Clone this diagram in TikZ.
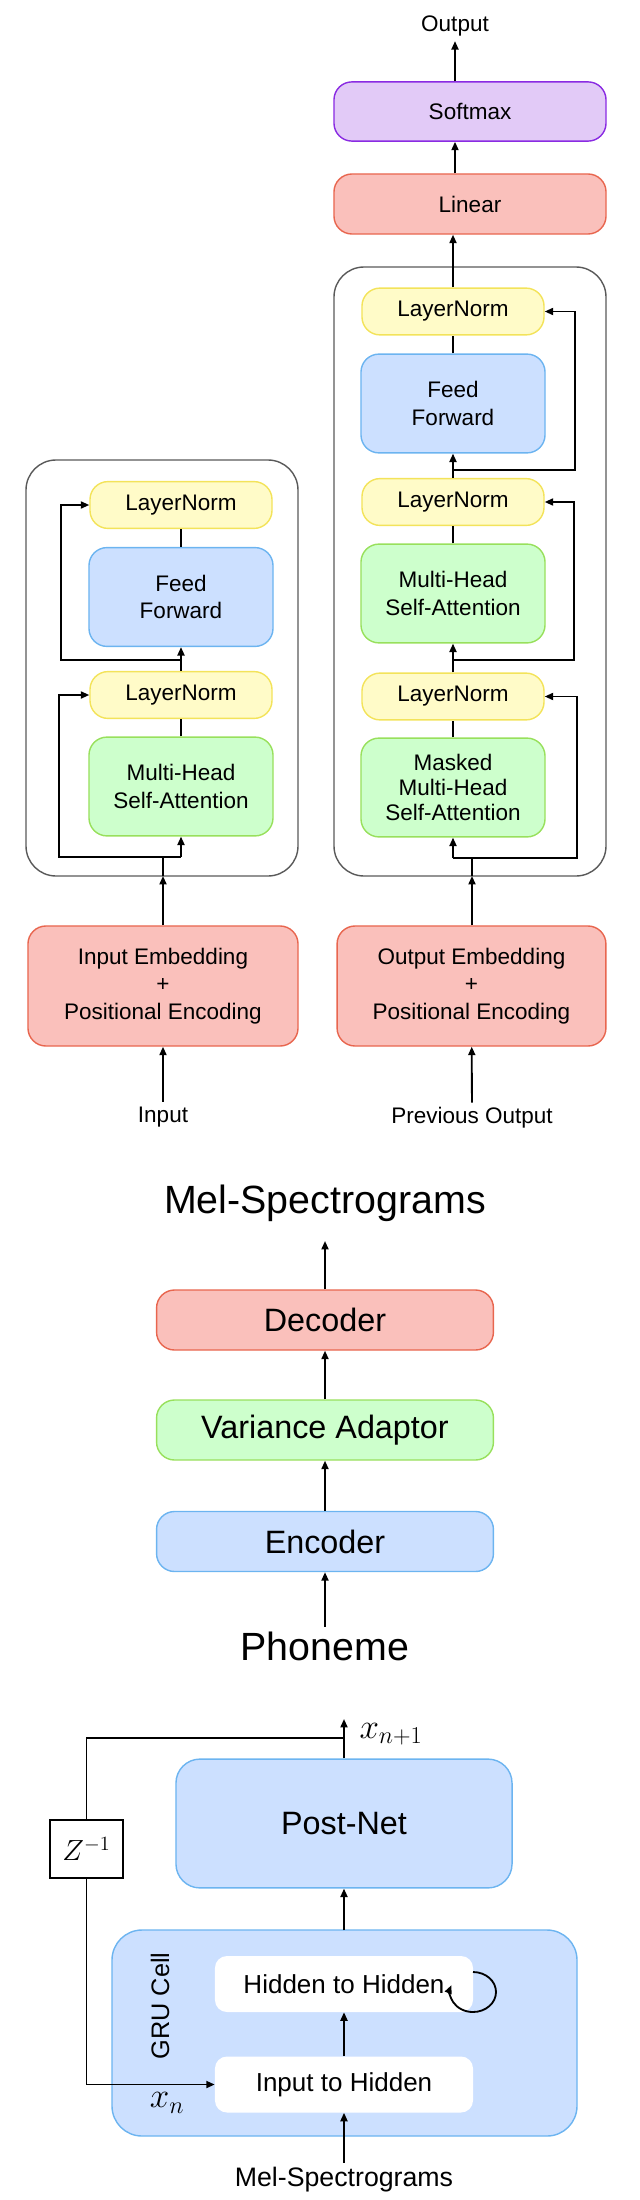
\documentclass[tikz,border=0pt]{standalone}
\usepackage{fontspec}
\setmainfont{Liberation Sans}
\usetikzlibrary{positioning, calc, arrows.meta, shapes}

\definecolor{redfill}{HTML}{FAC0BB}
\definecolor{redline}{HTML}{E8664F}
\definecolor{purplefill}{HTML}{E2CAF7}
\definecolor{purpleline}{HTML}{8A2BE2}
\definecolor{yellowfill}{HTML}{FFFBC8}
\definecolor{yellowline}{HTML}{F3E35A}
\definecolor{bluefill}{HTML}{CCE0FF}
\definecolor{blueline}{HTML}{6CB4F0}
\definecolor{greenfill}{HTML}{CDFFCC}
\definecolor{greenline}{HTML}{98E05C}

\begin{document}
\begin{tikzpicture}[
    x=0.025cm, y=-0.025cm,
    box/.style={rounded corners=0.45cm, line width=1pt, align=center, inner sep=0pt},
    small/.style={font=\fontsize{16}{19.5}\selectfont},
    redbox/.style={box, small, fill=redfill, draw=redline},
    purplebox/.style={box, small, fill=purplefill, draw=purpleline},
    normbox/.style={box, small, fill=yellowfill, draw=yellowline, minimum width=4.55cm, minimum height=1.17cm},
    ffbox/.style={box, small, fill=bluefill, draw=blueline, minimum width=4.6cm, minimum height=2.47cm},
    attbox/.style={box, small, fill=greenfill, draw=greenline, minimum width=4.6cm, minimum height=2.47cm},
    outer/.style={draw=black!65, line width=1pt, rounded corners=0.75cm},
    bigbox/.style={box, font=\fontsize{23}{27}\selectfont, minimum width=8.42cm, minimum height=1.5cm},
    whitebox/.style={fill=white, rounded corners=0.3cm, font=\fontsize{18.5}{22}\selectfont, minimum width=6.45cm, minimum height=1.4cm},
    arrow/.style={-{Triangle[length=6pt,width=5pt]}, line width=1.3pt},
    line/.style={line width=1.3pt}
]
    \useasboundingbox (0,0) rectangle (639,2200);

    % Encoder (left)
    \draw[outer] (26,460) rectangle (298,876);
    \node[normbox] (enorm2) at (181,505) {LayerNorm};
    \node[ffbox] (eff) at (181,597) {Feed\\Forward};
    \node[normbox] (enorm1) at (181,695) {LayerNorm};
    \node[attbox] (eatt) at (181,786.5) {Multi-Head\\Self-Attention};
    \node[redbox, minimum width=6.75cm, minimum height=3cm] (inemb) at (163,986) {Input Embedding\\+\\Positional Encoding};
    \node[small] (input) at (163,1117) {Input};

    \coordinate (ein) at (163,876);
    \coordinate (ejoin1) at (163,857);
    \coordinate (ejoin2) at (181,660);
    \draw[arrow] (input) -- (inemb);
    \draw[arrow] (inemb.north -| ein) -- (ein);
    \draw[line] (ein) -- (ejoin1) -- (181,857);
    \draw[arrow] (181,857) -- (eatt.south);
    \draw[arrow] (ejoin1) -- (59,857) |- (enorm1.west);
    \draw[line] (eatt.north) -- (enorm1.south);
    \draw[arrow] (enorm1.north) -- (eff.south);
    \draw[arrow] (ejoin2) -- (61,660) |- (enorm2.west);
    \draw[line] (eff.north) -- (enorm2.south);

    % Decoder (right)
    \draw[outer] (334,267) rectangle (606,876);
    \node[normbox] (dnorm3) at (453,311.5) {LayerNorm};
    \node[ffbox] (dff) at (453,403.5) {Feed\\Forward};
    \node[normbox] (dnorm2) at (453,502) {LayerNorm};
    \node[attbox] (datt) at (453,593.5) {Multi-Head\\Self-Attention};
    \node[normbox] (dnorm1) at (453,696.5) {LayerNorm};
    \node[attbox, font=\fontsize{16}{17.5}\selectfont] (dmask) at (453,787.5) {Masked\\Multi-Head\\Self-Attention};
    \node[redbox, minimum width=6.72cm, minimum height=3cm] (outemb) at (471.5,986) {Output Embedding\\+\\Positional Encoding};
    \node[small] (prev) at (472,1118) {Previous Output};
    \node[redbox, minimum width=6.8cm, minimum height=1.5cm] (linear) at (470,204) {Linear};
    \node[purplebox, minimum width=6.8cm, minimum height=1.48cm] (softmax) at (470,111.5) {Softmax};
    \node[small] (output) at (455,26) {Output};

    \coordinate (din) at (472,876);
    \coordinate (djoin1) at (472,858);
    \coordinate (djoin2) at (453,660);
    \coordinate (djoin3) at (453,470);
    \draw[arrow] (prev) -- (outemb);
    \draw[arrow] (outemb.north -| din) -- (din);
    \draw[line] (din) -- (djoin1) -- (453,858);
    \draw[arrow] (453,858) -- (dmask.south);
    \draw[arrow] (djoin1) -- (577,858) |- (dnorm1.east);
    \draw[line] (dmask.north) -- (dnorm1.south);
    \draw[arrow] (dnorm1.north) -- (datt.south);
    \draw[arrow] (djoin2) -- (574,660) |- (dnorm2.east);
    \draw[line] (datt.north) -- (dnorm2.south);
    \draw[arrow] (dnorm2.north) -- (dff.south);
    \draw[arrow] (djoin3) -- (575,470) |- (dnorm3.east);
    \draw[line] (dff.north) -- (dnorm3.south);
    \draw[arrow] (dnorm3.north) -- (dnorm3.north |- linear.south);
    \draw[arrow] (linear.north -| output) -- (softmax.south -| output);
    \draw[arrow] (softmax.north -| output) -- (output);

    % FastSpeech
    \node[font=\fontsize{28}{32}\selectfont] (mel) at (325,1203) {Mel-Spectrograms};
    \node[bigbox, fill=redfill, draw=redline] (decoder) at (325,1320) {Decoder};
    \node[bigbox, fill=greenfill, draw=greenline] (adaptor) at (325,1430) {Variance Adaptor};
    \node[bigbox, fill=bluefill, draw=blueline] (encoder) at (325,1541.5) {Encoder};
    \node[font=\fontsize{28}{32}\selectfont] (phoneme) at (325,1646) {Phoneme};

    \draw[arrow] (phoneme) -- (encoder);
    \draw[arrow] (encoder) -- (adaptor);
    \draw[arrow] (adaptor) -- (decoder);
    \draw[arrow] (decoder.north) -- (325,1241);

    % Autoregressive post-net
    \draw[box, fill=bluefill, draw=blueline, rounded corners=0.75cm] (112,1930) rectangle (577,2136);
    \node[bigbox, fill=bluefill, draw=blueline, minimum width=8.4cm, minimum height=3.22cm, rounded corners=0.6cm] (postnet) at (344,1823.5) {Post-Net};
    \node[whitebox] (hidden) at (344,1984) {Hidden to Hidden};
    \node[whitebox] (inhidden) at (344,2084.5) {Input to Hidden};
    \node[font=\fontsize{18}{20}\selectfont, rotate=90] (gru) at (160,2006) {GRU Cell};
    \node[draw, line width=1pt, minimum width=1.82cm, minimum height=1.45cm, font=\fontsize{22}{24}\selectfont] (delay) at (86.5,1849) {$Z^{-1}$};
    \node[font=\fontsize{22}{24}\selectfont] (melin) at (344,2180) {};
    \node[font=\fontsize{19}{22}\selectfont] (melin) at (344,2180) {Mel-Spectrograms};
    \node[font=\fontsize{24}{26}\selectfont] (xnext) at (391,1734) {$x_{n+1}$};
    \node[font=\fontsize{24}{26}\selectfont] (xn) at (167,2103) {$x_n$};

    \coordinate (tap) at (344,1738);
    \coordinate (outtip) at (344,1719);
    \draw[arrow] (melin) -- (inhidden);
    \draw[arrow] (inhidden) -- (hidden);
    \draw[arrow] (344,1930) -- (postnet.south);
    \draw[arrow] (postnet.north) -- (outtip);
    \draw[line] (tap) -| (delay.north);
    \draw[arrow] (delay.south) |- (inhidden.west);
    \draw[arrow] (473,1972) arc[start angle=-90, end angle=200, x radius=23, y radius=20];

\end{tikzpicture}
\end{document}
